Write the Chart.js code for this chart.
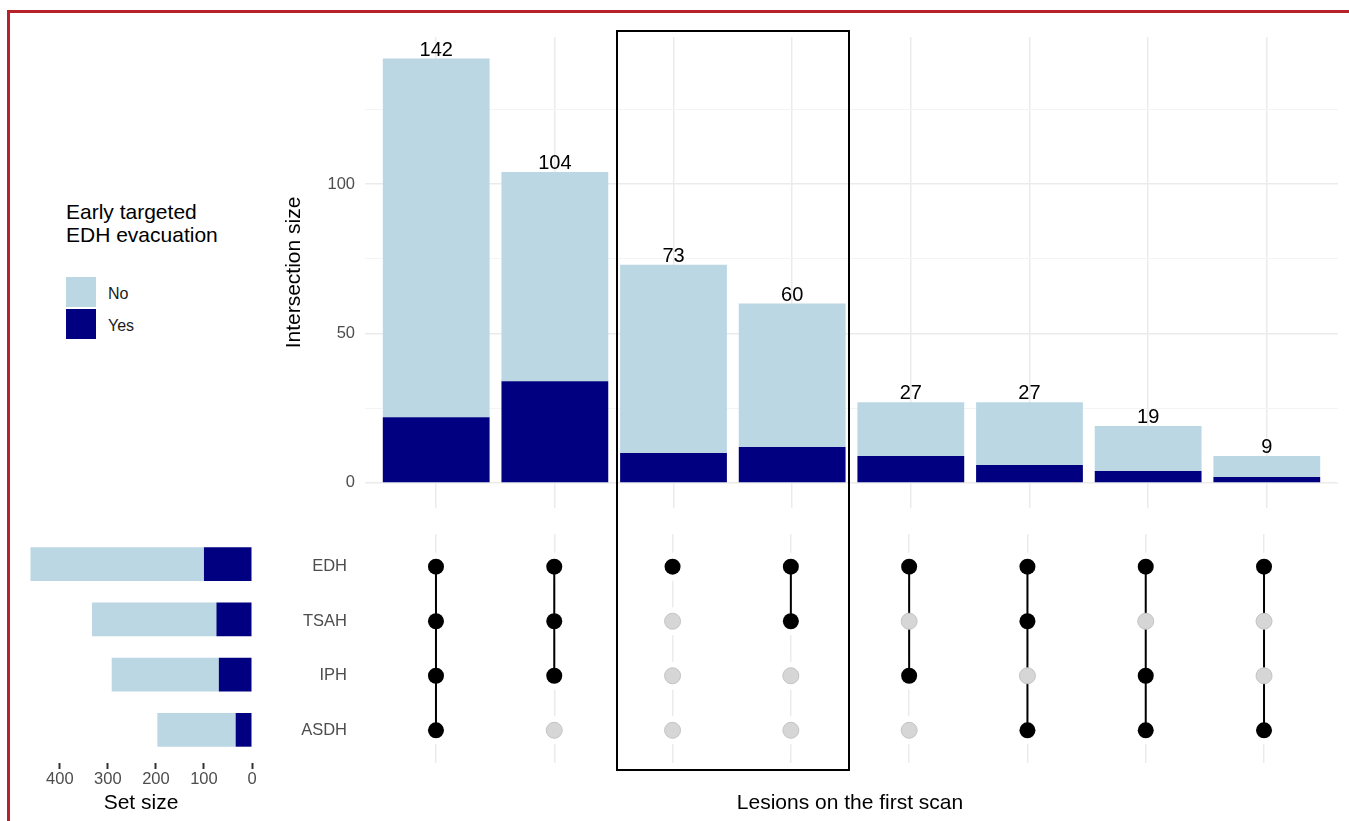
<!DOCTYPE html>
<html>
<head>
<meta charset="utf-8">
<script src="https://cdn.jsdelivr.net/npm/chart.js@4.4.0/dist/chart.umd.min.js"></script>
<style>
  html, body { margin: 0; padding: 0; background: #fff; }
  body { width: 1349px; height: 821px; position: relative; overflow: hidden; font-family: "Liberation Sans", Arial, sans-serif; }
  .abs { position: absolute; }
  #frame { left: 7px; top: 10px; width: 1400px; height: 900px; border-top: 3px solid #b7222a; border-left: 3px solid #b7222a; }
  #box { left: 616px; top: 30px; width: 234px; height: 741px; border: 2px solid #000; box-sizing: border-box; z-index: 5; }
  #legTitle { left: 66px; top: 200px; font-size: 21px; line-height: 23px; color: #000; }
  .sw { width: 30px; height: 30px; left: 66px; }
  .lab { left: 108px; font-size: 16px; line-height: 16px; color: #1a1a1a; }
</style>
</head>
<body>
<div id="frame" class="abs"></div>
<canvas id="top" class="abs" style="left:280px;top:20px" width="1069" height="500"></canvas>
<canvas id="matrix" class="abs" style="left:280px;top:520px" width="1069" height="301"></canvas>
<canvas id="sets" class="abs" style="left:0px;top:520px" width="280" height="301"></canvas>
<div id="box" class="abs"></div>
<div id="legTitle" class="abs">Early targeted<br>EDH evacuation</div>
<div id="legend"></div>

<script>
// datos de las intersecciones (columnas de izquierda a derecha)
const groups = ['No', 'Yes'];
const noCounts = [120, 70, 63, 48, 18, 21, 15, 7];
const yesCounts = [22, 34, 10, 12, 9, 6, 4, 2];

// conjuntos (filas de la matriz)
const sets = ['EDH', 'TSAH', 'IPH', 'ASDH'];
const edhIn = [1, 1, 1, 1, 1, 1, 1, 1];
const tsahIn = [1, 1, 0, 1, 0, 1, 0, 0];
const iphIn = [1, 1, 0, 0, 1, 0, 1, 0];
const asdhIn = [1, 0, 0, 0, 0, 1, 1, 1];

// tamaño de cada conjunto
const setNo = [361, 259, 223, 163];
const setYes = [100, 74, 69, 34];

// marcas de los ejes
const sizeTicks = [0, 25, 50, 75, 100, 125];
const setSizeTicks = [0, 100, 200, 300, 400];

const colorNo = '#bbd7e4';
const colorYes = '#000080';
const tickGrey = '#4d4d4d';
Chart.defaults.font.family = "'Liberation Sans', Arial, sans-serif";

const memberRows = [edhIn, tsahIn, iphIn, asdhIn];
const colIdx = noCounts.map((_, i) => i);
const rowIdx = sets.map((_, r) => r);

// quita el margen extra que Chart.js reserva para las etiquetas
function sinMargen(s) {
    s.paddingTop = 0;
    s.paddingBottom = 0;
}

// leyenda
const legend = document.getElementById('legend');
[colorNo, colorYes].forEach((c, k) => {
    const sw = document.createElement('div');
    sw.className = 'abs sw';
    sw.style.top = (277 + k * 32) + 'px';
    sw.style.background = c;
    legend.appendChild(sw);
    const lb = document.createElement('div');
    lb.className = 'abs lab';
    lb.style.top = (286 + k * 32) + 'px';
    lb.textContent = groups[k];
    legend.appendChild(lb);
});

// etiquetas con el total encima de cada barra
const totalLabels = {
    id: 'totalLabels',
    afterDatasetsDraw(chart) {
        const ctx = chart.ctx;
        const meta = chart.getDatasetMeta(1);
        ctx.save();
        ctx.font = "20px 'Liberation Sans', Arial, sans-serif";
        ctx.fillStyle = '#000';
        ctx.textAlign = 'center';
        ctx.textBaseline = 'alphabetic';
        meta.data.forEach((bar, i) => {
            ctx.fillText(String(noCounts[i] + yesCounts[i]), bar.x, bar.y - 3);
        });
        ctx.restore();
    }
};

new Chart(document.getElementById('top'), {
    type: 'bar',
    data: {
        datasets: [
            { label: 'Yes', data: yesCounts.map((v, i) => ({ x: i, y: v })), backgroundColor: colorYes, barPercentage: 0.9, categoryPercentage: 1 },
            { label: 'No', data: noCounts.map((v, i) => ({ x: i, y: v })), backgroundColor: colorNo, barPercentage: 0.9, categoryPercentage: 1 }
        ]
    },
    options: {
        responsive: false,
        animation: false,
        layout: { padding: { left: 0, right: 11, top: 17, bottom: 12 } },
        plugins: { legend: { display: false }, tooltip: { enabled: false } },
        scales: {
            x: {
                type: 'linear', min: -0.6, max: 7.6, stacked: true, offset: false,
                grid: { offset: false, color: '#ebebeb', lineWidth: 1.5, drawTicks: false },
                border: { display: false },
                ticks: { display: false },
                afterBuildTicks: s => { s.ticks = colIdx.map(v => ({ value: v })); },
                afterFit: s => { s.height = 0; s.paddingLeft = 0; s.paddingRight = 0; }
            },
            y: {
                stacked: true, min: -8.4, max: 149.2,
                grid: {
                    drawTicks: false,
                    color: c => (c.tick && c.tick.value % 50 === 0) ? '#ebebeb' : '#f4f4f4',
                    lineWidth: c => (c.tick && c.tick.value % 50 === 0) ? 1.5 : 1
                },
                border: { display: false },
                ticks: { padding: 10, color: tickGrey, font: { size: 16.5 }, callback: v => (v % 50 === 0 ? v : '') },
                afterBuildTicks: s => { s.ticks = sizeTicks.map(v => ({ value: v })); },
                afterFit: s => { s.width = 85; sinMargen(s); },
                title: { display: true, text: 'Intersection size', color: '#000', font: { size: 21 }, padding: { top: 2, bottom: 0 } }
            }
        }
    },
    plugins: [totalLabels]
});

// puntos de la matriz
const dotsOn = [], dotsOff = [];
memberRows.forEach((row, r) => row.forEach((m, i) => (m ? dotsOn : dotsOff).push({ x: i, y: r })));
const segs = [];
colIdx.forEach(i => {
    const rs = rowIdx.filter(r => memberRows[r][i]);
    if (rs.length > 1) {
        segs.push({ x: i, y: Math.min(...rs) }, { x: i, y: Math.max(...rs) }, { x: i, y: null });
    }
});

new Chart(document.getElementById('matrix'), {
    type: 'scatter',
    data: {
        datasets: [
            { data: dotsOn, pointRadius: 8, pointBackgroundColor: '#000', pointBorderWidth: 0, order: 0 },
            { data: dotsOff, pointRadius: 8, pointBackgroundColor: '#d6d6d6', pointBorderColor: '#c4c4c4', pointBorderWidth: 1, order: 0 },
            { data: segs, showLine: true, borderColor: '#000', borderWidth: 2, pointRadius: 0, spanGaps: false, order: 1 },
            { data: dotsOn.concat(dotsOff), pointRadius: 14, pointBackgroundColor: '#fff', pointBorderWidth: 0, order: 2 }
        ]
    },
    options: {
        responsive: false,
        animation: false,
        layout: { padding: { left: 0, right: 11, top: 11, bottom: 5.4 } },
        plugins: { legend: { display: false }, tooltip: { enabled: false } },
        scales: {
            x: {
                type: 'linear', min: -0.6, max: 7.6,
                grid: { color: '#ebebeb', lineWidth: 1.5, drawTicks: false },
                border: { display: false },
                ticks: { display: false },
                afterBuildTicks: s => { s.ticks = colIdx.map(v => ({ value: v })); },
                afterFit: s => { s.height = 52.6; s.paddingLeft = 0; s.paddingRight = 0; },
                title: { display: true, text: 'Lesions on the first scan', color: '#000', font: { size: 21 }, padding: 0 }
            },
            y: {
                type: 'linear', min: -0.6, max: 3.6, reverse: true,
                grid: { display: false },
                border: { display: false },
                ticks: { padding: 10, color: tickGrey, font: { size: 16.5 }, callback: v => sets[v] },
                afterBuildTicks: s => { s.ticks = rowIdx.map(v => ({ value: v })); },
                afterFit: s => { s.width = 85; sinMargen(s); }
            }
        }
    }
});

new Chart(document.getElementById('sets'), {
    type: 'bar',
    data: {
        datasets: [
            { label: 'Yes', data: setYes.map((v, r) => ({ x: v, y: r })), backgroundColor: colorYes, barPercentage: 0.61, categoryPercentage: 1 },
            { label: 'No', data: setNo.map((v, r) => ({ x: v, y: r })), backgroundColor: colorNo, barPercentage: 0.61, categoryPercentage: 1 }
        ]
    },
    options: {
        indexAxis: 'y',
        responsive: false,
        animation: false,
        layout: { padding: { left: 30, right: 28, top: 11, bottom: 5.4 } },
        plugins: { legend: { display: false }, tooltip: { enabled: false } },
        scales: {
            x: {
                type: 'linear', reverse: true, min: 0, max: 462, stacked: true,
                grid: { display: true, drawOnChartArea: false, drawTicks: true, tickLength: 6, tickColor: '#333', tickWidth: 2 },
                border: { display: false },
                ticks: { color: tickGrey, font: { size: 16.5 }, padding: 1, maxRotation: 0 },
                afterBuildTicks: s => { s.ticks = setSizeTicks.map(v => ({ value: v })); },
                afterFit: s => { s.height = 52.6; s.paddingLeft = 0; s.paddingRight = 0; },
                title: { display: true, text: 'Set size', color: '#000', font: { size: 21 }, padding: 0 }
            },
            y: {
                type: 'linear', min: -0.6, max: 3.6, reverse: true, stacked: true, offset: false,
                grid: { display: false, offset: false },
                border: { display: false },
                ticks: { display: false },
                afterBuildTicks: s => { s.ticks = rowIdx.map(v => ({ value: v })); },
                afterFit: s => { s.width = 0; sinMargen(s); }
            }
        }
    }
});
</script>
</body>
</html>
